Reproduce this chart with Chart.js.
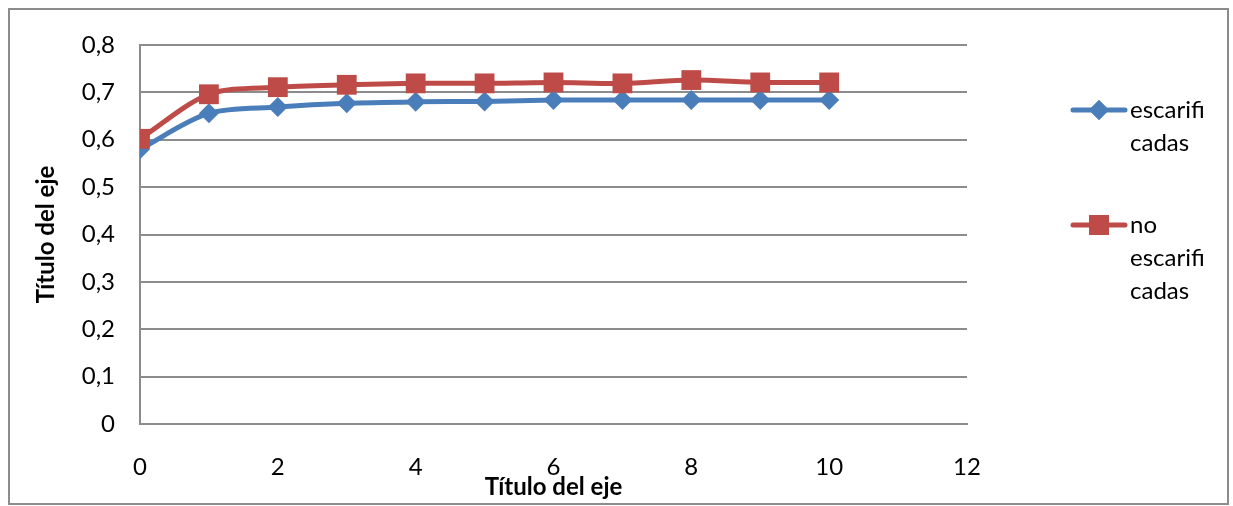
<!DOCTYPE html>
<html>
<head>
<meta charset="utf-8">
<script src="https://cdn.jsdelivr.net/npm/chart.js@4"></script>
<style>
  html, body { margin: 0; padding: 0; background: #fff; }
  #frame {
    position: absolute; left: 8px; top: 8px;
    width: 1221px; height: 497px;
    border: 2px solid #8c8c8c; box-sizing: border-box;
  }
  #myChart { display: block; }
</style>
</head>
<body>
<div id="frame"><canvas id="myChart" width="1217" height="493"></canvas></div>
<script>
// datos
const xValues = [0, 1, 2, 3, 4, 5, 6, 7, 8, 9, 10];
const escarificadas = [0.580, 0.656, 0.669, 0.677, 0.680, 0.681, 0.684, 0.684, 0.684, 0.684, 0.684];
const noEscarificadas = [0.602, 0.696, 0.711, 0.716, 0.719, 0.719, 0.721, 0.719, 0.726, 0.721, 0.721];
const seriesNames = [["escarifi", "cadas"], ["no", "escarifi", "cadas"]];
const yTickLabels = ["0", "0,1", "0,2", "0,3", "0,4", "0,5", "0,6", "0,7", "0,8"];
const axisTitle = "Título del eje";

const BLUE = "#4a7ebb";
const RED = "#be4b48";
const FONT = "Lato, 'Open Sans', sans-serif";

function toPoints(values) {
  return values.map((v, i) => ({ x: xValues[i], y: v }));
}

// leyenda a la derecha, texto partido en lineas como en Excel
const sideLegend = {
  id: "sideLegend",
  afterDraw(chart) {
    const ctx = chart.ctx;
    const items = [
      { color: BLUE, style: "rectRot", radius: 10, y: 100, lines: seriesNames[0] },
      { color: RED, style: "rect", radius: 14, y: 215, lines: seriesNames[1] },
    ];
    ctx.save();
    items.forEach((it) => {
      ctx.strokeStyle = it.color;
      ctx.lineWidth = 5;
      ctx.lineCap = "round";
      ctx.beginPath();
      ctx.moveTo(1063, it.y);
      ctx.lineTo(1115, it.y);
      ctx.stroke();
      ctx.fillStyle = it.color;
      Chart.helpers.drawPoint(ctx, { pointStyle: it.style, radius: it.radius, borderWidth: 0 }, 1089, it.y);
      ctx.fill();
      ctx.fillStyle = "#000";
      ctx.font = "24px " + FONT;
      ctx.textBaseline = "middle";
      ctx.textAlign = "left";
      it.lines.forEach((t, k) => ctx.fillText(t, 1120, it.y + k * 33));
    });
    ctx.restore();
  },
};

const ctx = document.getElementById("myChart").getContext("2d");
const chart = new Chart(ctx, {
  type: "line",
  data: {
    datasets: [
      {
        label: "escarificadas",
        data: toPoints(escarificadas),
        borderColor: BLUE,
        backgroundColor: BLUE,
        borderWidth: 5,
        pointStyle: "rectRot",
        pointRadius: 10,
        pointBorderWidth: 0,
        tension: 0.3,
        order: 1,
      },
      {
        label: "no escarificadas",
        data: toPoints(noEscarificadas),
        borderColor: RED,
        backgroundColor: RED,
        borderWidth: 5,
        pointStyle: "rect",
        pointRadius: 14,
        pointBorderWidth: 0,
        tension: 0.3,
        order: 0,
      },
    ],
  },
  options: {
    responsive: false,
    animation: false,
    layout: { padding: { left: 0, top: 35, right: 260, bottom: 0 } },
    plugins: {
      legend: { display: false },
      tooltip: { enabled: false },
    },
    scales: {
      x: {
        type: "linear",
        min: 0,
        max: 12,
        ticks: { stepSize: 2, padding: 29, color: "#000", font: { family: FONT, size: 24 } },
        grid: { display: false, drawTicks: false },
        border: { display: true, color: "#8c8c8c", width: 2 },
        title: {
          display: true,
          text: axisTitle,
          color: "#000",
          font: { family: FONT, size: 24, weight: "bold" },
          padding: { top: 0, bottom: 1 },
        },
        afterFit(scale) { scale.height = 79; },
      },
      y: {
        min: 0,
        max: 0.8,
        ticks: {
          stepSize: 0.1,
          padding: 25,
          color: "#000",
          font: { family: FONT, size: 24 },
          callback: (value, index) => yTickLabels[index],
        },
        grid: { color: "#8c8c8c", lineWidth: 2, drawTicks: false },
        border: { display: true, color: "#8c8c8c", width: 2 },
        title: {
          display: true,
          text: axisTitle,
          color: "#000",
          font: { family: FONT, size: 24, weight: "bold" },
          padding: { top: 22, bottom: 0 },
        },
        afterFit(scale) {
          scale.width = 130;
          scale.paddingTop = 15;
          scale.paddingBottom = 15;
        },
      },
    },
  },
  plugins: [sideLegend],
});
</script>
</body>
</html>
